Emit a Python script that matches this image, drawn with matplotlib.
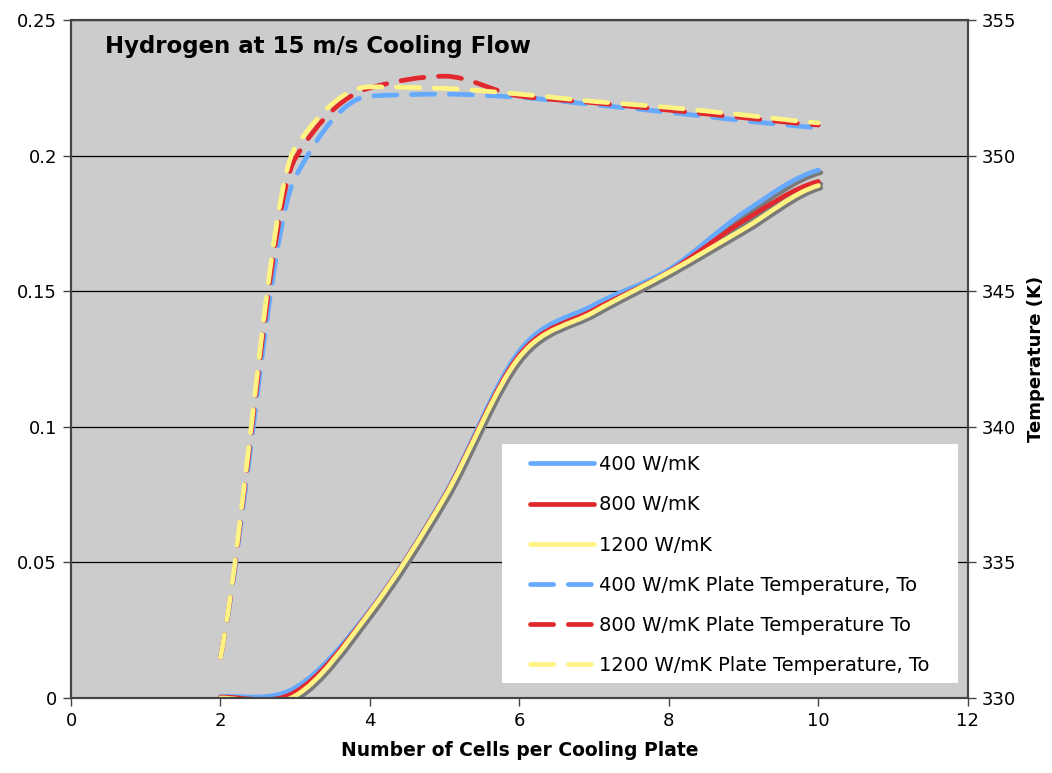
import numpy as np
import matplotlib
matplotlib.use("Agg")
import matplotlib.pyplot as plt
from matplotlib.path import Path
from matplotlib.patches import PathPatch, Rectangle
from matplotlib.lines import Line2D
import matplotlib.patheffects as pe

cells = [2, 3, 4, 5, 6, 7, 8, 9, 10]

# left axis series
k400 = [0.0005, 0.0038, 0.0325, 0.0750, 0.1280, 0.1450, 0.1580, 0.1790, 0.1947]
k800 = [0.0003, 0.0022, 0.0320, 0.0745, 0.1265, 0.1432, 0.1572, 0.1760, 0.1905]
k1200 = [0.0000, 0.0008, 0.0317, 0.0741, 0.1257, 0.1424, 0.1570, 0.1730, 0.1890]

# plate temperature, right axis (K)
to400 = [331.5, 349.2, 352.2, 352.27, 352.15, 351.88, 351.60, 351.29, 351.03]
to800 = [331.5, 349.9, 352.5, 352.93, 352.20, 351.95, 351.68, 351.40, 351.13]
to1200 = [331.5, 350.3, 352.54, 352.48, 352.27, 352.00, 351.78, 351.50, 351.21]

labels = ["400 W/mK", "800 W/mK", "1200 W/mK",
          "400 W/mK Plate Temperature, To",
          "800 W/mK Plate Temperature To",
          "1200 W/mK Plate Temperature, To"]

blue = "#66aaff"
red = "#e0282e"
yellow = "#fff383"

DASH = (0, (4.9, 3.1))
LW = 3.4


def smooth_path(x, y, monotone=False):
    # smoothed line as cubic bezier segments (catmull-rom tangents,
    # or harmonic-mean tangents when the curve must not overshoot)
    x = np.asarray(x, float)
    y = np.asarray(y, float)
    h = np.diff(x)
    d = np.diff(y) / h
    m = np.zeros_like(y)
    for k in range(1, len(y) - 1):
        if monotone:
            if d[k - 1] * d[k] > 0:
                m[k] = 2.0 / (1.0 / d[k - 1] + 1.0 / d[k])
        else:
            m[k] = 0.5 * (d[k - 1] + d[k])
    end = 0.75 if monotone else 0.5
    m[0] = end * d[0]
    m[-1] = end * d[-1]
    verts = [(x[0], y[0])]
    codes = [Path.MOVETO]
    for i in range(len(x) - 1):
        verts += [(x[i] + h[i] / 3, y[i] + m[i] * h[i] / 3),
                  (x[i + 1] - h[i] / 3, y[i + 1] - m[i + 1] * h[i] / 3),
                  (x[i + 1], y[i + 1])]
        codes += [Path.CURVE4] * 3
    return Path(verts, codes)


def add_curve(ax, x, y, color, dashed=False):
    kw = dict(fill=False, edgecolor=color, lw=LW, capstyle="round",
              joinstyle="round")
    if dashed:
        kw["linestyle"] = DASH
    else:
        kw["path_effects"] = [pe.SimpleLineShadow(offset=(1.8, -1.8),
                                                  shadow_color="#7a7a7a",
                                                  alpha=1.0),
                              pe.Normal()]
    ax.add_patch(PathPatch(smooth_path(x, y, monotone=dashed), **kw))


plt.rcParams["font.family"] = ["DejaVu Sans"]
plt.rcParams["font.size"] = 13

fig = plt.figure(figsize=(10.52, 7.73), dpi=100)
ax = fig.add_axes([0.0675, 0.097, 0.8525, 0.877])
ax.set_facecolor("#cccccc")
ax2 = ax.twinx()

for ys, c in zip([k400, k800, k1200], [blue, red, yellow]):
    add_curve(ax, cells, ys, c)
for ys, c in zip([to400, to800, to1200], [blue, red, yellow]):
    add_curve(ax2, cells, ys, c, dashed=True)

ax.set_xlim(0, 12)
ax.set_ylim(0, 0.25)
ax2.set_ylim(330, 355)
ax.set_xticks(range(0, 13, 2))
ax.set_yticks([0, 0.05, 0.1, 0.15, 0.2, 0.25])
ax.set_yticklabels(["0", "0.05", "0.1", "0.15", "0.2", "0.25"])
ax2.set_yticks(range(330, 356, 5))

ax.grid(axis="y", color="black", lw=0.9)
ax.set_axisbelow(True)
for a in (ax, ax2):
    for s in a.spines.values():
        s.set_color("#444444")
        s.set_linewidth(1.5)
    a.tick_params(direction="out", length=6, width=1, color="#444444",
                  labelsize=13, pad=4)

ax.set_xlabel("Number of Cells per Cooling Plate", fontweight="bold",
              fontsize=13.5, labelpad=8)
ax2.set_ylabel("Temperature (K)", fontweight="bold", fontsize=13, labelpad=8)
ax.text(0.0379, 0.9617, "Hydrogen at 15 m/s Cooling Flow",
        transform=ax.transAxes, fontsize=16.5, fontweight="bold",
        va="center", ha="left")

# white legend panel
ax2.add_patch(Rectangle((0.4805, 0.0221), 0.5084, 0.3525,
                        transform=ax2.transAxes, facecolor="white",
                        edgecolor="none", zorder=4))

handles = []
for c, ls in [(blue, "-"), (red, "-"), (yellow, "-"),
              (blue, DASH), (red, DASH), (yellow, DASH)]:
    handles.append(Line2D([], [], color=c, lw=LW, linestyle=ls,
                          solid_capstyle="round", dash_capstyle="round"))
leg = ax2.legend(handles, labels, loc="center left",
                 bbox_to_anchor=(0.5117, 0.196), frameon=False,
                 fontsize=14, handlelength=3.3, handletextpad=0.25,
                 labelspacing=1.09, borderpad=0, borderaxespad=0)
leg.set_zorder(5)

fig.savefig("out.png", dpi=100)
